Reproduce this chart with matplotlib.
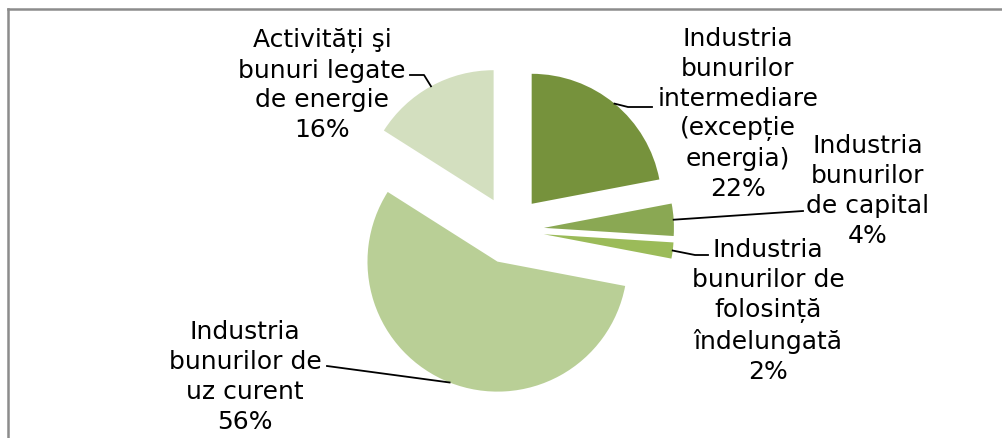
import numpy as np
import matplotlib.pyplot as plt

# date din grafic (procente)
labels = ["Industria\nbunurilor\nintermediare\n(excepție\nenergia)",
          "Industria\nbunurilor\nde capital",
          "Industria\nbunurilor de\nfolosință\nîndelungată",
          "Industria\nbunurilor de\nuz curent",
          "Activități şi\nbunuri legate\nde energie"]
shares = [22, 4, 2, 56, 16]
colors = ["#76923c", "#8aa853", "#9bbb59", "#b9cf96", "#d3dfbf"]

W, H = 1003, 439
fig = plt.figure(figsize=(W / 100, H / 100), dpi=100)
ax = fig.add_axes([0, 0, 1, 1])

cx, cy, rad = 510, H - 231, 130
# explode e in unitati de date (pixeli aici)
wedges, _ = ax.pie(shares, colors=colors, startangle=90, counterclock=False,
                   center=(cx, cy), radius=rad, explode=[34] * len(shares),
                   wedgeprops=dict(linewidth=0))
ax.set_xlim(0, W)
ax.set_ylim(0, H)
ax.set_aspect('equal')
ax.axis('off')

# pozitii etichete (pixeli, de sus) si punctele liniilor de legatura
text_pos = [(738, 114), (868, 191), (768, 311), (245, 377), (322, 85)]
leaders = [[(628, 108), (652, 108)],
           [(803, 212)],
           [(695, 256), (708, 256)],
           [(327, 367)],
           [(424, 76), (410, 76)]]

for w, lab, v, (tx, ty), pts in zip(wedges, labels, shares, text_pos, leaders):
    mid = np.deg2rad((w.theta1 + w.theta2) / 2)
    x0 = w.center[0] + w.r * np.cos(mid)
    y0 = w.center[1] + w.r * np.sin(mid)
    xs = [x0] + [p[0] for p in pts]
    ys = [y0] + [H - p[1] for p in pts]
    ax.plot(xs, ys, color="black", lw=1.3)
    ax.text(tx, H - ty, lab + "\n" + str(v) + "%", ha="center", va="center",
            fontsize=18, family="DejaVu Sans", linespacing=1.3)

# chenarul graficului (doar sus si stanga se vad)
ax.plot([8, 8], [-5, H - 10], color="#8c8c8c", lw=1.8)
ax.plot([8, W + 5], [H - 10, H - 10], color="#8c8c8c", lw=1.8)

fig.savefig("out.png", dpi=100)
